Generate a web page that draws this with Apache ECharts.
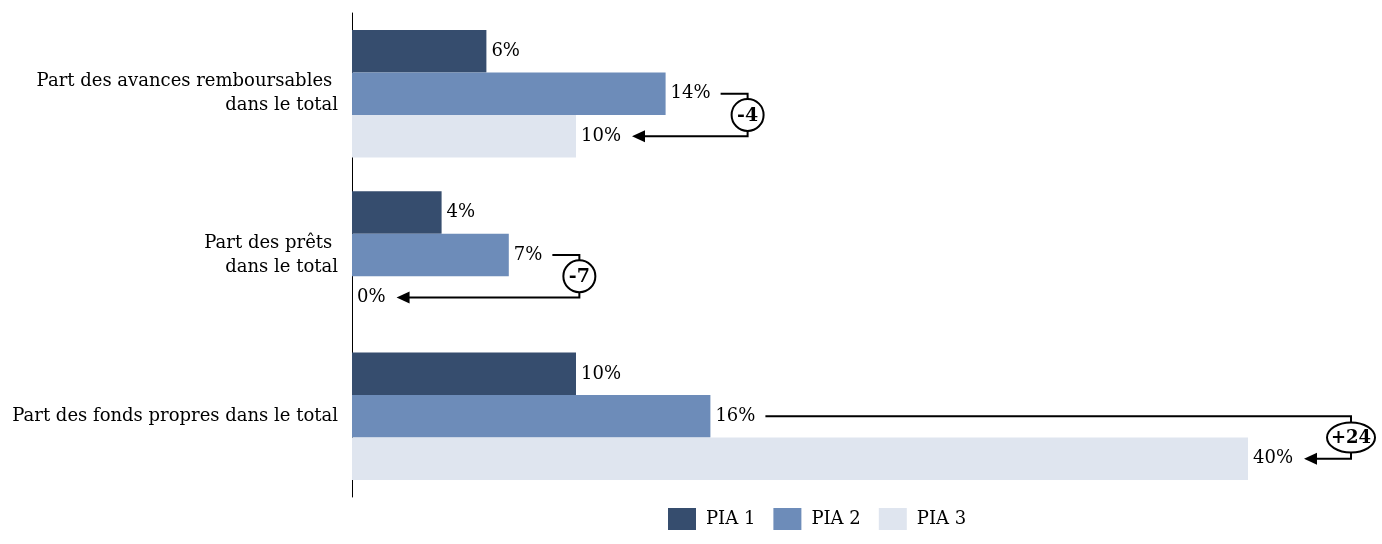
<!DOCTYPE html>
<html><head><meta charset="utf-8">
<script src="https://cdn.jsdelivr.net/npm/echarts@6/dist/echarts.min.js"></script>
<style>html,body{margin:0;padding:0;background:#fff}#c{width:1382px;height:544px}</style>
</head><body><div id="c"></div>
<script>
const categories = ['Part des avances remboursables \ndans le total', 'Part des prêts \ndans le total', 'Part des fonds propres dans le total'];
const seriesNames = ['PIA 1', 'PIA 2', 'PIA 3'];
const pia1 = [6, 4, 10];
const pia2 = [14, 7, 16];
const pia3 = [10, 0, 40];
const diffLabels = ['-4', '-7', '+24'];
const colors = ['#364d6e', '#6d8cb9', '#dfe5ef'];
const FONT = '"DejaVu Serif", serif';
const FS = 18;

const ctx = document.createElement('canvas').getContext('2d');
ctx.font = FS + 'px ' + FONT;
function tw(s){ return ctx.measureText(s).width; }

const annData = categories.map((c, i) => [i, pia2[i], pia3[i], diffLabels[i]]);

const chart = echarts.init(document.getElementById('c'));
const barCatGap = '21%';
function mkBar(name, data, color){
  return {
    type: 'bar', name, data, barGap: '0%', barCategoryGap: barCatGap,
    itemStyle: {color},
    label: {show: true, position: 'right', distance: 5, formatter: '{c}%', fontFamily: FONT, fontSize: FS, color: '#000'},
    silent: true, animation: false
  };
}
chart.setOption({
  animation: false,
  grid: {left: 352, right: 134, top: 13, bottom: 47},
  xAxis: {type: 'value', min: 0, max: 40, show: false},
  yAxis: {type: 'category', data: categories, inverse: true,
    axisLine: {show: true, lineStyle: {color: '#000', width: 1}},
    axisTick: {show: false},
    axisLabel: {fontFamily: FONT, fontSize: FS, color: '#000', margin: 14, lineHeight: 24, align: 'right'}},
  legend: {data: seriesNames, left: 663, top: 503, itemWidth: 28, itemHeight: 22, itemGap: 18,
    textStyle: {fontFamily: FONT, fontSize: FS, color: '#000', padding: [0, 0, 0, 5]}, icon: 'rect'},
  series: [
    mkBar(seriesNames[0], pia1, colors[0]),
    mkBar(seriesNames[1], pia2, colors[1]),
    mkBar(seriesNames[2], pia3, colors[2]),
    {
      type: 'custom', name: 'ann', data: annData, clip: false, silent: true,
      encode: {x: [1, 2], y: 0},
      renderItem: function(params, api){
        const cat = api.value(0), from = api.value(1), to = api.value(2);
        const lab = diffLabels[params.dataIndex];
        const band = api.size([0, 1])[1];
        const bw = band * (1 - 0.21) / 3;
        const c = api.coord([0, cat]);
        const yFrom = c[1];
        const yTo = c[1] + bw;
        const yMid = c[1] + bw / 2;
        const fromEnd = api.coord([from, cat])[0] + 5 + tw(from + '%');
        const toEnd = api.coord([to, cat])[0] + 5 + tw(to + '%');
        const bx = Math.max(fromEnd, toEnd) + (toEnd > fromEnd ? 58 : 37);
        const rx = lab.length > 2 ? 24 : 16;
        const ry = lab.length > 2 ? 15 : 16;
        const ls = {stroke: '#000', lineWidth: 2, fill: null};
        const x0 = fromEnd + 10, tip = toEnd + 11;
        return {type: 'group', children: [
          {type: 'polyline', shape: {points: [[x0, yFrom], [bx, yFrom], [bx, yMid - ry]]}, style: ls},
          {type: 'polyline', shape: {points: [[bx, yMid + ry], [bx, yTo], [tip + 12, yTo]]}, style: ls},
          {type: 'polygon', shape: {points: [[tip, yTo], [tip + 13, yTo - 6], [tip + 13, yTo + 6]]}, style: {fill: '#000'}},
          {type: 'ellipse', shape: {cx: bx, cy: yMid, rx: rx, ry: ry}, style: {stroke: '#000', lineWidth: 2, fill: '#fff'}},
          {type: 'text', x: bx, y: yMid + 1, style: {text: lab, font: 'bold ' + (lab.length > 2 ? 18 : 19) + 'px ' + FONT, fill: '#000', align: 'center', verticalAlign: 'middle'}}
        ]};
      }
    }
  ]
});
</script></body></html>
